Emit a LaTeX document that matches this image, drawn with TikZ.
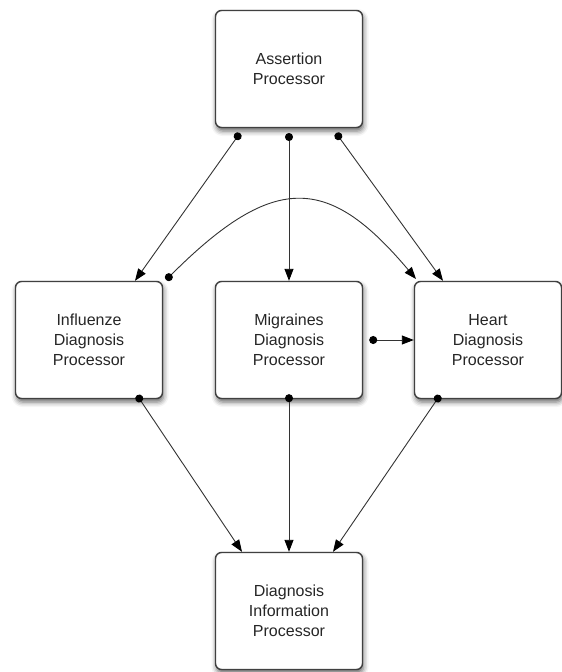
\documentclass[tikz,border=0pt]{standalone}
\usepackage{fontspec}
\setmainfont{Liberation Sans}
\usetikzlibrary{arrows.meta,shadows.blur}
\begin{document}
\begin{tikzpicture}[x=1pt,y=-1pt,
  proc/.style={draw=black!75, line width=1.4pt, rounded corners=6pt, fill=white,
    minimum width=147pt, minimum height=117pt, align=center, inner sep=0pt,
    font=\fontsize{16}{20}\selectfont, text=black!85,
    blur shadow={shadow xshift=1pt, shadow yshift=-3.5pt, shadow blur radius=5pt, shadow opacity=60}},
  conn/.style={draw=black!80, line width=0.9pt, {Circle[length=8pt,black]}-{Triangle[length=12pt,width=9pt,black]}}
]
\useasboundingbox (0,0) rectangle (562,672);
\node[proc] (ap) at (289,69) {Assertion\\Processor};
\node[proc] (inf) at (89,340) {Influenze\\Diagnosis\\Processor};
\node[proc] (mig) at (289,340) {Migraines\\Diagnosis\\Processor};
\node[proc] (hrt) at (488,340) {Heart\\Diagnosis\\Processor};
\node[proc] (dip) at (289,611) {Diagnosis\\Information\\Processor};

\coordinate (ap1) at (240,133);
\coordinate (ap2) at (289,133);
\coordinate (ap3) at (336,133);
\coordinate (inf1) at (166,280);
\coordinate (hrt1) at (416,279);

\draw[conn] (ap1) -- (inf.north -| 135,0);
\draw[conn] (ap2) -- (mig.north);
\draw[conn] (ap3) -- (hrt.north -| 443,0);
\draw[conn] (inf1) .. controls (276,170) and (330,177) .. (hrt1);
\draw[conn] (mig.east) ++(6pt,0) coordinate (m1) (m1) -- (hrt.west);
\draw[conn] (inf.south -| 137,0) ++(0,-4) coordinate (i2) (i2) -- (dip.north -| 242,0);
\draw[conn] (mig.south) ++(0,-5) coordinate (m2) (m2) -- (dip.north);
\draw[conn] (hrt.south -| 440,0) ++(0,-4) coordinate (h2) (h2) -- (dip.north -| 333,0);
\end{tikzpicture}
\end{document}
